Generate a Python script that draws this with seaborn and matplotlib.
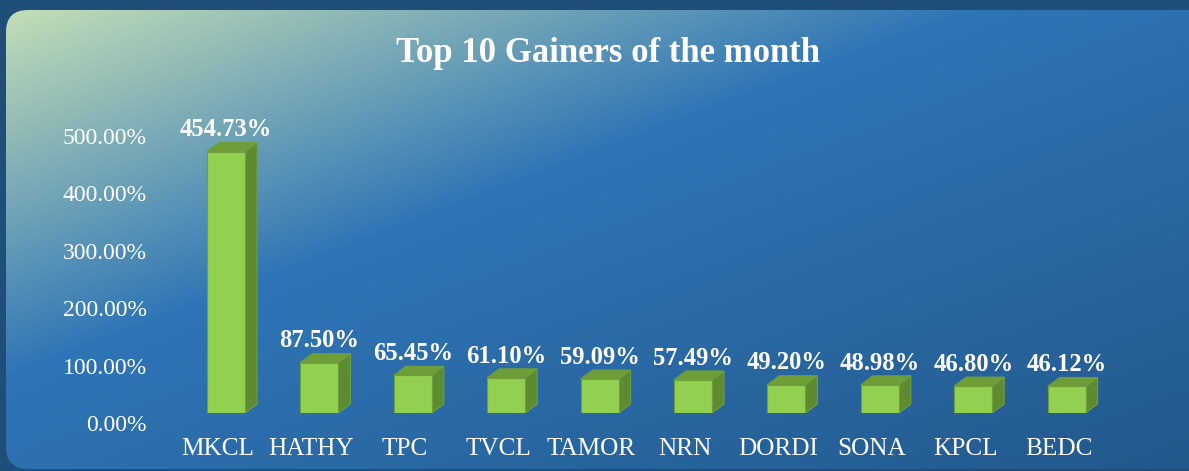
import numpy as np
import matplotlib
matplotlib.use('Agg')
import matplotlib.pyplot as plt
import seaborn as sns
from matplotlib.patches import Polygon, FancyBboxPatch
from matplotlib.transforms import ScaledTranslation
from matplotlib.colors import to_rgb
from matplotlib.ticker import FuncFormatter

# ---------------- data ----------------
categories = ["MKCL", "HATHY", "TPC", "TVCL", "TAMOR", "NRN", "DORDI", "SONA", "KPCL", "BEDC"]
gains = [454.73, 87.50, 65.45, 61.10, 59.09, 57.49, 49.20, 48.98, 46.80, 46.12]
y_ticks = [0, 100, 200, 300, 400, 500]
title = "Top 10 Gainers of the month"

# ---------------- style ----------------
W, H, DPI = 1189, 471, 100
sns.set_theme(style="white")
plt.rcParams['font.family'] = ['Liberation Serif', 'DejaVu Serif']

FRONT = '#92D050'
SIDE = '#5E8A30'
TOP = '#6F9D38'
EDGE = '#6E9F3C'

fig = plt.figure(figsize=(W / DPI, H / DPI), dpi=DPI, facecolor='#1F4E79')

# ---------------- gradient panel background ----------------
bg = fig.add_axes([0, 0, 1, 1], zorder=0)
bg.set_xlim(0, W)
bg.set_ylim(H, 0)
bg.axis('off')
yy, xx = np.mgrid[0:H, 0:W]
t = 0.5 * (xx / 1000.0 + yy / 380.0)
stops_t = [0.0, 0.5, 1.25]
stops_c = [to_rgb(c) for c in ['#C9E2B6', '#2E75B6', '#22578A']]
img = np.stack([np.interp(t, stops_t, [c[i] for c in stops_c]) for i in range(3)], axis=-1)
im = bg.imshow(img, extent=[0, W, H, 0], aspect='auto', interpolation='bilinear')
panel = FancyBboxPatch((6, 10), W + 40, 459, boxstyle='round,pad=0,rounding_size=22',
                       transform=bg.transData, facecolor='none', edgecolor='none')
bg.add_patch(panel)
im.set_clip_path(panel)

# ---------------- main axes ----------------
left_px, right_px, top_px, base_px = 180, 1110, 100, 413
x_step_px, y_px_per_unit = 93.4, 0.575
first_center_px = 226
ax = fig.add_axes([left_px / W, (H - base_px) / H, (right_px - left_px) / W, (base_px - top_px) / H], zorder=1)
ax.patch.set_alpha(0)

sns.barplot(x=categories, y=gains, color=FRONT, saturation=1, width=0.407,
            edgecolor=EDGE, linewidth=0.8, ax=ax, zorder=3)

ax.set_xlim(-(first_center_px - left_px) / x_step_px, (right_px - first_center_px) / x_step_px)
ax.set_ylim(0, (base_px - top_px) / y_px_per_unit)

# 3D depth in data units (12 px right, 9 px up)
dx = 12 / x_step_px
dy = 9 / y_px_per_unit

for p in list(ax.patches):
    x0 = p.get_x()
    w = p.get_width()
    h = p.get_height()
    x1 = x0 + w
    side = Polygon([(x1, 0), (x1 + dx, dy), (x1 + dx, h + dy), (x1, h)], closed=True,
                   facecolor=SIDE, edgecolor=EDGE, linewidth=0.8, zorder=2)
    top = Polygon([(x0, h), (x1, h), (x1 + dx, h + dy), (x0 + dx, h + dy)], closed=True,
                  facecolor=TOP, edgecolor=EDGE, linewidth=0.8, zorder=2)
    ax.add_patch(side)
    ax.add_patch(top)

for i, v in enumerate(gains):
    ax.annotate(f"{v:.2f}%", xy=(i, v + dy), xytext=(0, 4.5), textcoords='offset points',
                ha='center', va='baseline', fontsize=17.7, fontweight='bold', color='white', zorder=5)

for s in ax.spines.values():
    s.set_visible(False)
ax.grid(False)
ax.set_xlabel('')
ax.set_ylabel('')
ax.set_yticks(y_ticks)
ax.yaxis.set_major_formatter(FuncFormatter(lambda v, pos: f"{v:.2f}%"))
ax.tick_params(axis='y', length=0, pad=24, labelsize=17, labelcolor='white')
ax.tick_params(axis='x', length=0, pad=18, labelsize=18.2, labelcolor='white')

for lbl in ax.get_yticklabels():
    lbl.set_transform(lbl.get_transform() + ScaledTranslation(0, -10 / DPI, fig.dpi_scale_trans))
for lbl in ax.get_xticklabels():
    lbl.set_transform(lbl.get_transform() + ScaledTranslation(-8 / DPI, 0, fig.dpi_scale_trans))

fig.text(608 / W, 1 - 62 / H, title, ha='center', va='baseline', fontsize=25,
         fontweight='bold', color='white', zorder=5)

fig.savefig('out.png', dpi=DPI, facecolor=fig.get_facecolor())
